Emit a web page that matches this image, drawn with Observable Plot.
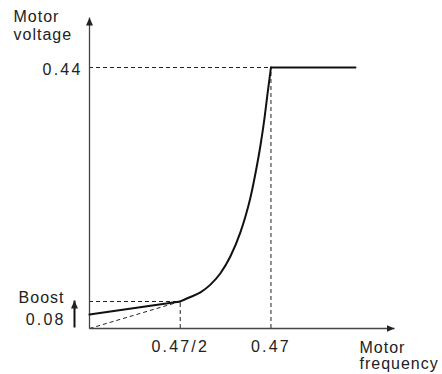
<!DOCTYPE html>
<html>
<head>
<meta charset="utf-8">
<script src="https://cdn.jsdelivr.net/npm/d3@7"></script>
<script src="https://cdn.jsdelivr.net/npm/@observablehq/plot@0.6"></script>
<style>
  html, body { margin: 0; padding: 0; background: #fff; }
  svg { display: block; }
</style>
</head>
<body>
<div id="chart"></div>
<script>
// Curve: motor voltage vs motor frequency (schematic V/f curve with boost)
const rampFreq = [0, 0.235];
const rampVolt = [0.0236, 0.0455];
const curveFreq = [0.235, 0.2615, 0.2874, 0.3133, 0.3392, 0.3651, 0.3910, 0.4039, 0.4169, 0.4298, 0.4428, 0.4531, 0.4609, 0.47];
const curveVolt = [0.0455, 0.0531, 0.0610, 0.0740, 0.0931, 0.1217, 0.1625, 0.1888, 0.2208, 0.2613, 0.3085, 0.3540, 0.3945, 0.44];
const flatFreq = [0.47, 0.689];
const flatVolt = [0.44, 0.44];

const baseFreq = 0.47;
const halfFreq = 0.235;
const maxVolt = 0.44;
const boostVolt = 0.0455;
const xMax = 0.79;
const yMax = 0.5243;

const xTickValues = [0.235, 0.47];
const xTickLabels = ["0.47/2", "0.47"];
const yTickValues = [0.44];
const yTickLabels = ["0.44"];
const yTitle = "Motor\nvoltage";
const xTitle = "Motor\nfrequency";
const boostLabel = "Boost";
const boostValue = "0.08";

const pts = (xs, ys) => xs.map((x, i) => ({x, y: ys[i]}));

const FONT = "'Liberation Sans', Arial, Helvetica, sans-serif";
const dash = {stroke: "#222", strokeWidth: 1, strokeDasharray: "4,3"};
const AXIS_COLOR = "#454545";
const BOOST_COLOR = "#121212";

const svg = Plot.plot({
  width: 442,
  height: 374,
  marginLeft: 89,
  marginRight: 48,
  marginTop: 17,
  marginBottom: 46,
  style: {fontFamily: FONT, fontSize: "16px", background: "#fff", color: "#222"},
  x: {domain: [0, xMax], axis: null},
  y: {domain: [0, yMax], axis: null},
  marks: [
    // dashed guides
    Plot.ruleY([maxVolt], {x1: 0, x2: baseFreq, ...dash}),
    Plot.ruleX([baseFreq], {y1: 0, y2: maxVolt, ...dash}),
    Plot.ruleY([boostVolt], {x1: 0, x2: halfFreq, ...dash}),
    Plot.ruleX([halfFreq], {y1: 0, y2: boostVolt, ...dash}),
    Plot.link([{x1: 0, y1: 0, x2: halfFreq, y2: boostVolt}], {x1: "x1", y1: "y1", x2: "x2", y2: "y2", ...dash}),
    // axes with arrowheads
    Plot.link([{x1: 0, y1: 0, x2: 0, y2: yMax}, {x1: 0, y1: 0, x2: xMax, y2: 0}],
      {x1: "x1", y1: "y1", x2: "x2", y2: "y2", stroke: AXIS_COLOR, strokeWidth: 1.3}),
    // boost arrow
    Plot.link([{x1: 0, y1: 0, x2: 0, y2: boostVolt}],
      {x1: "x1", y1: "y1", x2: "x2", y2: "y2", dx: -15, dy: -1, stroke: BOOST_COLOR, strokeWidth: 2}),
    // the curve
    Plot.line(pts(rampFreq, rampVolt), {x: "x", y: "y", stroke: "#111", strokeWidth: 2}),
    Plot.line(pts(curveFreq, curveVolt), {x: "x", y: "y", stroke: "#111", strokeWidth: 2, curve: "monotone-x"}),
    Plot.line(pts(flatFreq, flatVolt), {x: "x", y: "y", stroke: "#111", strokeWidth: 2}),
    // tick labels
    Plot.text(xTickValues, {x: d => d, y: 0, text: (d, i) => xTickLabels[i], dy: 18, fill: "#222"}),
    Plot.text(yTickValues, {x: 0, y: d => d, text: (d, i) => yTickLabels[i], dx: -7, dy: 2, textAnchor: "end", fill: "#222"}),
    Plot.text([boostValue], {x: 0, y: 0, text: d => d, dx: -23.8, dy: -9, textAnchor: "end", fill: "#222"}),
    Plot.text([boostLabel], {x: 0, y: 0, text: d => d, dx: -25, dy: -31, textAnchor: "end", fill: "#222"}),
    // axis titles
    Plot.text([yTitle], {x: 0, y: yMax, text: d => d, dx: -76, dy: -8, textAnchor: "start", lineAnchor: "top", lineHeight: 1.1, fill: "#222"}),
    Plot.text([xTitle], {x: xMax, y: 0, text: d => d, dx: -35, dy: 13, textAnchor: "start", lineAnchor: "top", lineHeight: 1.0, fill: "#222"})
  ]
});

const s = d3.select(svg);
const defs = s.insert("defs", ":first-child");
defs.append("marker")
  .attr("id", "ahead")
  .attr("viewBox", "0 0 8 7")
  .attr("refX", 8).attr("refY", 3.5)
  .attr("markerWidth", 8).attr("markerHeight", 7)
  .attr("markerUnits", "userSpaceOnUse")
  .attr("orient", "auto")
  .append("path").attr("d", "M0,0L8,3.5L0,7Z").attr("fill", "#222");
s.selectAll("g").each(function() {
  const st = this.getAttribute("stroke");
  if (st === AXIS_COLOR || st === BOOST_COLOR) {
    d3.select(this).selectAll("path, line").attr("marker-end", "url(#ahead)");
  }
});
s.selectAll("text").each(function() {
  const t = this.textContent;
  this.style.letterSpacing = /^[0-9.\/]+$/.test(t) ? "2.2px" : "1px";
});

document.getElementById("chart").appendChild(svg);
</script>
</body>
</html>
